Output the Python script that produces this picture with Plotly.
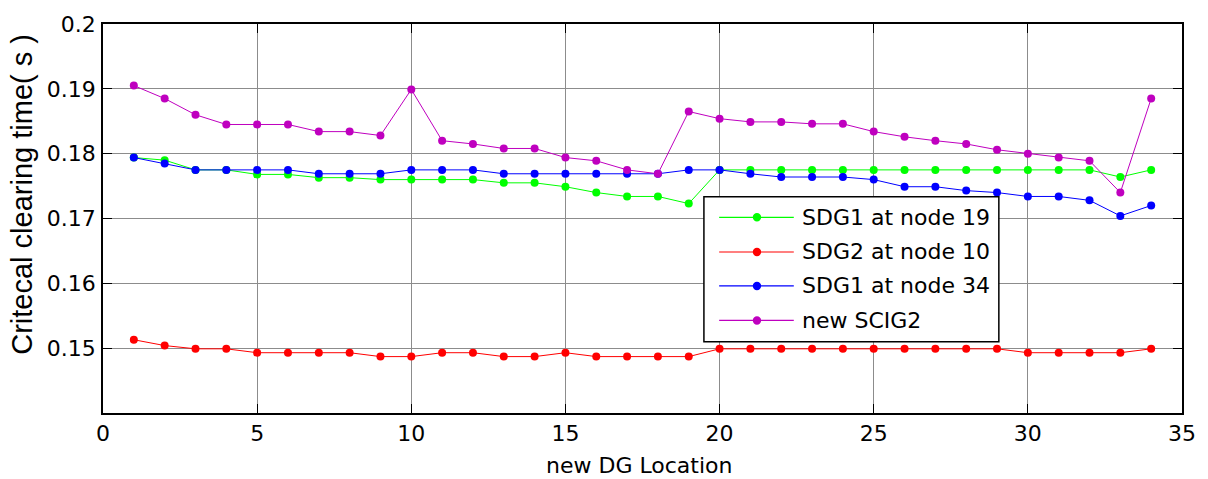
import plotly.graph_objects as go

# DG location index (1..34)
location = list(range(1, 35))

sdg1_node19 = [0.1794, 0.1790, 0.1775, 0.1775, 0.1768, 0.1768, 0.1763, 0.1763, 0.1760,
               0.1760, 0.1760, 0.1760, 0.1755, 0.1755, 0.1749, 0.1740, 0.1734, 0.1734,
               0.1723, 0.1775, 0.1775, 0.1775, 0.1775, 0.1775, 0.1775, 0.1775, 0.1775,
               0.1775, 0.1775, 0.1775, 0.1775, 0.1775, 0.1764, 0.1775]

sdg2_node10 = [0.1513, 0.1504, 0.1499, 0.1499, 0.1493, 0.1493, 0.1493, 0.1493, 0.1487,
               0.1487, 0.1493, 0.1493, 0.1487, 0.1487, 0.1493, 0.1487, 0.1487, 0.1487,
               0.1487, 0.1499, 0.1499, 0.1499, 0.1499, 0.1499, 0.1499, 0.1499, 0.1499,
               0.1499, 0.1499, 0.1493, 0.1493, 0.1493, 0.1493, 0.1499]

sdg1_node34 = [0.1794, 0.1785, 0.1775, 0.1775, 0.1775, 0.1775, 0.1769, 0.1769, 0.1769,
               0.1775, 0.1775, 0.1775, 0.1769, 0.1769, 0.1769, 0.1769, 0.1769, 0.1769,
               0.1775, 0.1775, 0.1769, 0.1764, 0.1764, 0.1764, 0.1760, 0.1749, 0.1749,
               0.1743, 0.1740, 0.1734, 0.1734, 0.1728, 0.1704, 0.1720]

new_scig2 = [0.1905, 0.1885, 0.1860, 0.1845, 0.1845, 0.1845, 0.1834, 0.1834, 0.1828,
             0.1899, 0.1820, 0.1815, 0.1808, 0.1808, 0.1794, 0.1789, 0.1775, 0.1769,
             0.1865, 0.1854, 0.1849, 0.1849, 0.1846, 0.1846, 0.1834, 0.1826, 0.1820,
             0.1815, 0.1806, 0.1800, 0.1794, 0.1789, 0.1740, 0.1885]

series_names = ["SDG1 at node 19", "SDG2 at node 10", "SDG1 at node 34", "new SCIG2"]
series_values = [sdg1_node19, sdg2_node10, sdg1_node34, new_scig2]
series_colors = ["#00ff00", "#ff0000", "#0000ff", "#bf00bf"]

x_ticks = [0, 5, 10, 15, 20, 25, 30, 35]
y_ticks = [0.15, 0.16, 0.17, 0.18, 0.19, 0.2]
y_tick_text = ["0.15", "0.16", "0.17", "0.18", "0.19", "0.2"]

FONT = "DejaVu Sans, sans-serif"
TITLE_FONT = "Liberation Sans, Arial, sans-serif"

W, H = 1208, 479
ML, MR, MT, MB = 103, 21, 18, 66
PW, PH = W - ML - MR, H - MT - MB


def px_x(p):
    """Pixel column -> paper x."""
    return (p - ML) / PW


def px_y(p):
    """Pixel row -> paper y."""
    return (H - MB - p) / PH


fig = go.Figure()
for name, vals, color in zip(series_names, series_values, series_colors):
    fig.add_trace(go.Scatter(
        x=location, y=vals, name=name, mode="lines+markers",
        line=dict(color=color, width=1),
        marker=dict(color=color, size=8),
        showlegend=False,
    ))

axis_common = dict(
    showline=True, linecolor="black", linewidth=1.5, mirror="ticks",
    ticks="inside", ticklen=9, tickcolor="black", tickwidth=1,
    showgrid=True, gridcolor="#8c8c8c", gridwidth=1, zeroline=False,
    tickfont=dict(family=FONT, size=22, color="black"),
)

fig.update_xaxes(range=[0, 35], tickvals=x_ticks, **axis_common)
fig.update_yaxes(range=[0.14, 0.2], tickvals=y_ticks, ticktext=y_tick_text,
                 ticklabelstandoff=1, **axis_common)

shapes = []
annotations = []

# boxed legend: long line samples with a dot in the middle
box_l, box_r, box_t, box_b = 706.7, 1003.0, 193.3, 340.7
shapes.append(dict(type="rect", xref="paper", yref="paper", layer="above",
                   x0=px_x(box_l), x1=px_x(box_r), y0=px_y(box_b), y1=px_y(box_t),
                   line=dict(color="black", width=1.5), fillcolor="white"))
row_y = [214.3, 249.5, 284.0, 319.0]
for name, color, ry in zip(series_names, series_colors, row_y):
    shapes.append(dict(type="line", xref="paper", yref="paper", layer="above",
                       x0=px_x(722), x1=px_x(797), y0=px_y(ry), y1=px_y(ry),
                       line=dict(color=color, width=1.2)))
    shapes.append(dict(type="circle", xref="paper", yref="paper", layer="above",
                       xsizemode="pixel", ysizemode="pixel",
                       xanchor=px_x(760), yanchor=px_y(ry),
                       x0=-4.2, x1=4.2, y0=-4.2, y1=4.2,
                       line=dict(color=color, width=0), fillcolor=color))
    annotations.append(dict(text=name, xref="paper", yref="paper",
                            x=px_x(803), y=px_y(ry), xanchor="left", yanchor="middle",
                            showarrow=False, font=dict(family=FONT, size=22, color="black")))

# axis titles
annotations.append(dict(text="new DG Location", xref="paper", yref="paper",
                        x=px_x(642), y=px_y(466), xanchor="center", yanchor="middle",
                        showarrow=False, font=dict(family=FONT, size=22, color="black")))
annotations.append(dict(text="Critecal clearing time( s )", xref="paper", yref="paper",
                        x=px_x(22), y=px_y(191), xanchor="center", yanchor="middle",
                        textangle=-90, showarrow=False,
                        font=dict(family=TITLE_FONT, size=29, color="black")))

fig.update_layout(
    width=W, height=H,
    margin=dict(l=ML, r=MR, t=MT, b=MB),
    paper_bgcolor="white", plot_bgcolor="white",
    font=dict(family=FONT, color="black"),
    showlegend=False,
    shapes=shapes,
    annotations=annotations,
)

fig.write_html("out.html")
